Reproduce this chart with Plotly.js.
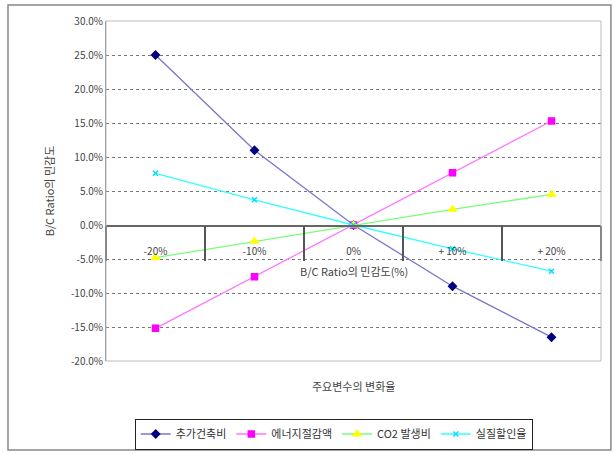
<!DOCTYPE html>
<html><head><meta charset="utf-8">
<script src="https://cdn.plot.ly/plotly-3.0.1.min.js"></script>
<style>html,body{margin:0;padding:0;background:#fff}#c{width:614px;height:454px}</style>
</head><body><div id="c"></div>
<script>
const categories = ['-20%', '-10%', '0%', '+ 10%', '+ 20%'];
const seriesNames = ['추가건축비', '에너지절감액', 'CO2 발생비', '실질할인율'];
const addBuildCost = [25.0, 11.0, 0, -9.0, -16.5];
const energySaving = [-15.2, -7.6, 0, 7.7, 15.3];
const co2Cost = [-4.8, -2.4, 0, 2.3, 4.5];
const discountRate = [7.6, 3.7, 0, -3.5, -6.8];
const yTickVals = [-20, -15, -10, -5, 0, 5, 10, 15, 20, 25, 30];
const yTickText = yTickVals.map(v => v.toFixed(1) + '%');

const F = '"Noto Sans CJK KR", "DejaVu Sans", sans-serif';
const styles = [
  {line:'#7777cc', marker:'#000080', symbol:'diamond', size:6},
  {line:'#ff77ff', marker:'#ff00ff', symbol:'square', size:6},
  {line:'#77ff77', marker:'#ffff00', symbol:'triangle-up', size:7},
  {line:'#33ffff', marker:'#00e0ff', symbol:'x-thin-open', size:5}
];
const vals = [addBuildCost, energySaving, co2Cost, discountRate];
const traces = vals.map((v, i) => ({
  type: 'scatter', mode: 'lines+markers', name: seriesNames[i],
  x: categories, y: v,
  line: {color: styles[i].line, width: 1.3},
  marker: {color: styles[i].marker, symbol: styles[i].symbol, size: styles[i].size,
           line: {color: styles[i].marker, width: 1.5}},
  cliponaxis: false
}));
// helper trace that only carries the boundary tick marks axis
traces.push({type: 'scatter', mode: 'lines', x: categories, y: co2Cost, xaxis: 'x2',
  line: {width: 0, color: 'rgba(0,0,0,0)'}, showlegend: false, hoverinfo: 'skip'});

const layout = {
  width: 614, height: 454,
  margin: {l: 106, r: 13, t: 21, b: 93, autoexpand: false},
  paper_bgcolor: '#fff', plot_bgcolor: '#fff',
  font: {family: F, size: 10, color: '#333'},
  showlegend: true,
  legend: {orientation: 'h', x: 0.46, xanchor: 'center',
           yref: 'container', y: 0.044, yanchor: 'middle',
           bordercolor: '#222', borderwidth: 1, font: {family: F, size: 11, color: '#333'},
           tracegroupgap: 0},
  xaxis: {
    type: 'category', categoryorder: 'array', categoryarray: categories,
    anchor: 'free', position: 0.4, automargin: false,
    showgrid: false, zeroline: false,
    showline: true, linecolor: '#666', linewidth: 1.5,
    ticks: '', ticklabelstandoff: 16,
    tickfont: {family: F, size: 10, color: '#444'},
    range: [-0.5, 4.5]
  },
  xaxis2: {
    type: 'category', categoryorder: 'array', categoryarray: categories,
    overlaying: 'x', anchor: 'free', position: 0.4, side: 'bottom', automargin: false,
    showgrid: false, zeroline: false, showline: false, showticklabels: false,
    ticks: 'outside', tickson: 'boundaries', ticklen: 35, tickwidth: 1.2, tickcolor: '#555',
    range: [-0.5, 4.5]
  },
  yaxis: {
    range: [-20, 30], tickvals: yTickVals, ticktext: yTickText, automargin: false,
    showgrid: true, gridcolor: '#777', griddash: 'dot', gridwidth: 1,
    zeroline: false, showline: true, linecolor: '#888', linewidth: 1,
    ticks: '', tickfont: {family: F, size: 10, color: '#444'},
    title: {text: 'B/C Ratio의 민감도', font: {family: F, size: 11, color: '#444'}, standoff: 14}
  },
  shapes: [
    {type: 'rect', xref: 'paper', yref: 'paper', x0: 0, x1: 1, y0: 0, y1: 1,
     line: {color: '#bbb', width: 1}},
    {type: 'rect', xref: 'paper', yref: 'paper', x0: -0.198, x1: 1.02, y0: -0.262, y1: 1.047,
     line: {color: '#888', width: 1.5}}
  ],
  annotations: [
    {xref: 'paper', yref: 'paper', x: 0.5, y: 0.235, text: 'B/C Ratio의 민감도(%)',
     showarrow: false, font: {family: F, size: 11, color: '#444'}},
    {xref: 'paper', yref: 'paper', x: 0.5, y: -0.07, yanchor: 'middle', yshift: -1,
     text: '주요변수의 변화율', showarrow: false, font: {family: F, size: 11, color: '#444'}}
  ]
};
Plotly.newPlot('c', traces, layout, {displayModeBar: false, staticPlot: true});
</script></body></html>
